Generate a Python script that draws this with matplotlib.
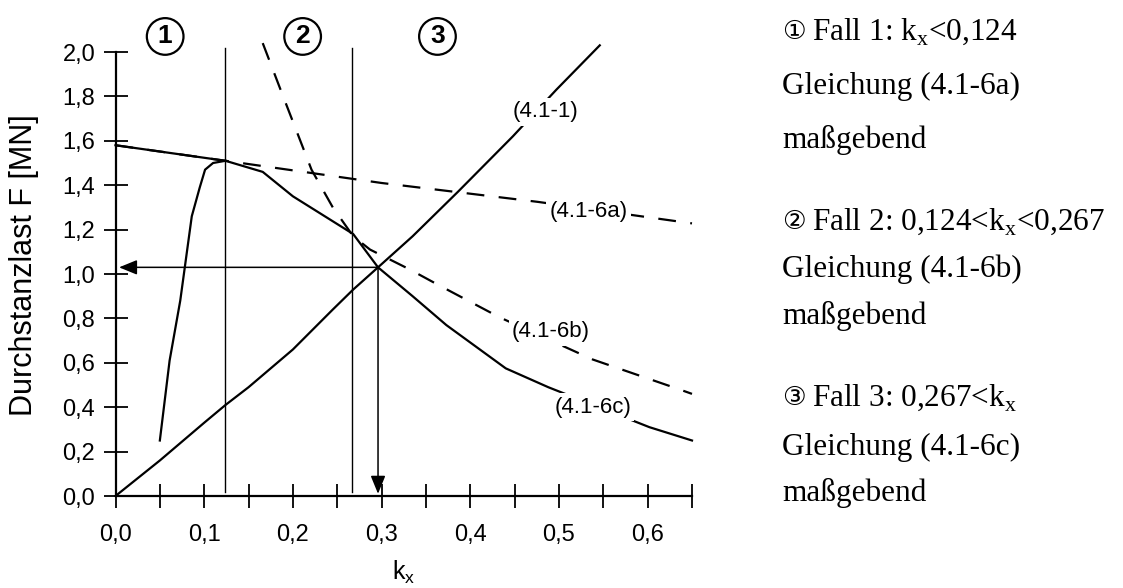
import numpy as np
import matplotlib.pyplot as plt

plt.rcParams['mathtext.fontset'] = 'custom'
plt.rcParams['mathtext.rm'] = 'Liberation Serif'
plt.rcParams['mathtext.sf'] = 'Liberation Sans'

## curves read as (k_x, F [MN])
k_41_1 = [0.0, 0.05, 0.10, 0.124, 0.15, 0.20, 0.245, 0.268, 0.296, 0.335, 0.386, 0.448, 0.497, 0.546]
F_41_1 = [0.0, 0.16, 0.33, 0.41, 0.49, 0.66, 0.84, 0.93, 1.03, 1.17, 1.37, 1.62, 1.83, 2.03]

k_6a = [0.0, 0.124, 0.30, 0.476, 0.65]
F_6a = [1.58, 1.51, 1.41, 1.325, 1.228]

k_6b = [0.166, 0.189, 0.221, 0.245, 0.268, 0.287, 0.332, 0.362, 0.388, 0.433, 0.538, 0.636, 0.65]
F_6b = [2.04, 1.80, 1.47, 1.30, 1.17, 1.11, 1.02, 0.955, 0.90, 0.805, 0.615, 0.48, 0.46]

k_6c = [0.05, 0.061, 0.073, 0.086, 0.095, 0.101, 0.11, 0.124, 0.166, 0.20, 0.268, 0.296,
        0.335, 0.373, 0.44, 0.488, 0.602, 0.65]
F_6c = [0.25, 0.61, 0.88, 1.26, 1.39, 1.47, 1.50, 1.51, 1.46, 1.35, 1.18, 1.03,
        0.90, 0.77, 0.575, 0.49, 0.31, 0.25]

## case limits and design point
k_limits = [0.124, 0.267]
k_design = 0.296
F_design = 1.03

## curve labels: text, k, F
curve_labels = ['(4.1-1)', '(4.1-6a)', '(4.1-6b)', '(4.1-6c)']
label_k = [0.485, 0.533, 0.491, 0.538]
label_F = [1.73, 1.28, 0.74, 0.40]

## case markers above the plot
case_numbers = ['1', '2', '3']
case_k = [0.056, 0.211, 0.363]

x_ticks = [0.0, 0.1, 0.2, 0.3, 0.4, 0.5, 0.6]
y_ticks = [0.0, 0.2, 0.4, 0.6, 0.8, 1.0, 1.2, 1.4, 1.6, 1.8, 2.0]

side_text = [
    ('\u2460', 'Fall 1: k$_\\mathrm{x}$<0,124'),
    (None, 'Gleichung (4.1-6a)'),
    (None, 'maßgebend'),
    ('\u2461', 'Fall 2: 0,124<k$_\\mathrm{x}$<0,267'),
    (None, 'Gleichung (4.1-6b)'),
    (None, 'maßgebend'),
    ('\u2462', 'Fall 3: 0,267<k$_\\mathrm{x}$'),
    (None, 'Gleichung (4.1-6c)'),
    (None, 'maßgebend'),
]
side_rows = [32, 86, 140, 222, 269, 316, 398, 447, 493]

W, H = 1123, 588
fig = plt.figure(figsize=(W / 100, H / 100), dpi=100)
ax = fig.add_axes([115.5 / W, (H - 496) / H, (692 - 115.5) / W, 2.1 * 222 / H])
ax.set_xlim(0, 0.65)
ax.set_ylim(0, 2.1)

sans = 'Liberation Sans'
lw = 1.6
dash = (0, (8, 6.5))

ax.plot(k_41_1, F_41_1, color='k', lw=lw, clip_on=False)
ax.plot(k_6a, F_6a, color='k', lw=lw, ls=dash, clip_on=False)
ax.plot(k_6a[:2], F_6a[:2], color='k', lw=lw, clip_on=False)   # case 1 governs
ax.plot(k_6b, F_6b, color='k', lw=lw, ls=dash, clip_on=False)
ax.plot(k_6c, F_6c, color='k', lw=lw, clip_on=False)

for k in k_limits:
    ax.plot([k, k], [0.02, 2.02], color='k', lw=1.0, clip_on=False)

## arrows from the design point to both axes
arr = dict(arrowstyle='-|>,head_length=1.1,head_width=0.45', color='k', lw=1.1,
           shrinkA=0, shrinkB=0, mutation_scale=10)
ax.annotate('', xy=(0.004, F_design), xytext=(k_design, F_design), arrowprops=arr)
ax.annotate('', xy=(k_design, 0.01), xytext=(k_design, F_design), arrowprops=arr)

for txt, k, F in zip(curve_labels, label_k, label_F):
    ax.text(k, F, txt, fontsize=16, family=sans, ha='center', va='center', zorder=5,
            bbox=dict(boxstyle='square,pad=0.15', fc='white', ec='none'))

for n, k in zip(case_numbers, case_k):
    ax.text(k, 2.07, n, fontsize=19, family=sans, fontweight='bold', ha='center', va='center',
            bbox=dict(boxstyle='circle,pad=0.24', fc='none', ec='k', lw=1.6), clip_on=False)

## axes styling
for s in ['top', 'right']:
    ax.spines[s].set_visible(False)
ax.spines['left'].set_bounds(0, 2.0)
ax.spines['left'].set_linewidth(1.6)
ax.spines['bottom'].set_linewidth(1.6)

ax.set_xticks(x_ticks)
ax.set_xticklabels([('%.1f' % v).replace('.', ',') for v in x_ticks])
ax.set_xticks([0.05, 0.15, 0.25, 0.35, 0.45, 0.55, 0.65], minor=True)
ax.set_yticks(y_ticks)
ax.set_yticklabels([('%.1f' % v).replace('.', ',') for v in y_ticks])
ax.tick_params(which='both', direction='inout', length=17, width=1.3)
ax.tick_params(axis='x', which='major', pad=12)
ax.tick_params(axis='y', pad=6)
for lab in ax.get_xticklabels() + ax.get_yticklabels():
    lab.set_fontfamily(sans)
    lab.set_fontsize(17)

fig.text(24 / W, 1 - 265 / H, 'Durchstanzlast F [MN]', rotation=90, fontsize=22,
         family=sans, ha='center', va='center')
fig.text(404 / W, 1 - 572 / H, 'k$_\\mathsf{x}$', fontsize=18, family=sans,
         ha='center', va='center')

## explanation of the three cases
for (circ, txt), y in zip(side_text, side_rows):
    if circ is not None:
        fig.text(782 / W, 1 - y / H, circ, fontsize=19, family='DejaVu Sans',
                 ha='left', va='center')
        fig.text(812 / W, 1 - y / H, txt, fontsize=22.5, family='Liberation Serif',
                 ha='left', va='center')
    else:
        fig.text(782 / W, 1 - y / H, txt, fontsize=22.5, family='Liberation Serif',
                 ha='left', va='center')

fig.savefig('out.png', dpi=100)
